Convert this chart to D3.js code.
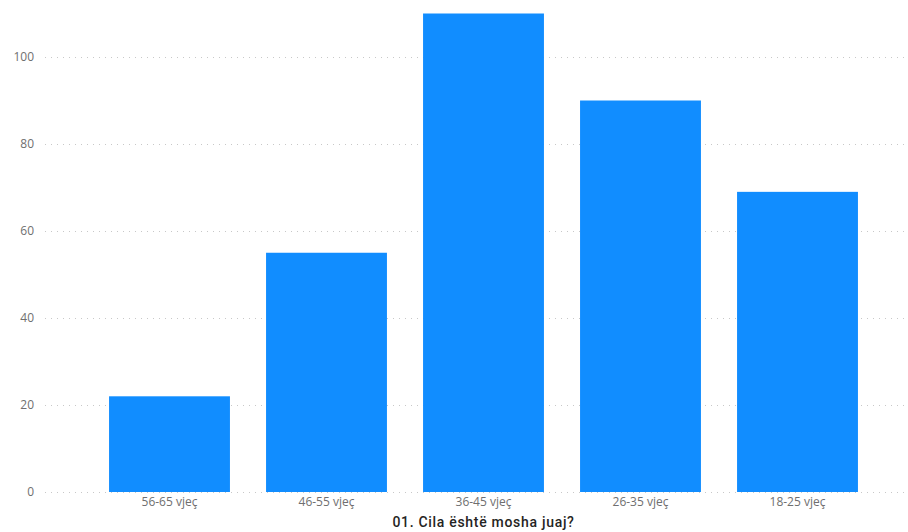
<!DOCTYPE html>
<html>
<head>
<meta charset="utf-8">
<script src="https://cdn.jsdelivr.net/npm/d3@7"></script>
<style>
  body { margin: 0; background: #fff; }
  .tick text { font-family: "Open Sans", sans-serif; font-size: 12px; fill: #6f6f6f; }
</style>
</head>
<body>
<div id="chart"></div>
<script>
const categories = ["56-65 vjeç", "46-55 vjeç", "36-45 vjeç", "26-35 vjeç", "18-25 vjeç"];
const values = [22, 55, 110, 90, 69];
const yTicks = [0, 20, 40, 60, 80, 100];
const xTitle = "01. Cila është mosha juaj?";

const width = 908, height = 532;

const svg = d3.select("#chart")
  .append("svg")
  .attr("width", width)
  .attr("height", height);

const x = d3.scaleBand()
  .domain(categories)
  .range([91, 876])
  .paddingInner(0.23)
  .paddingOuter(0.115);

const y = d3.scaleLinear()
  .domain([0, 100])
  .range([492, 57]);

// gridlines
svg.append("g")
  .selectAll("line")
  .data(yTicks)
  .enter()
  .append("line")
  .attr("x1", 45)
  .attr("x2", width)
  .attr("y1", d => y(d) + 0.5)
  .attr("y2", d => y(d) + 0.5)
  .attr("stroke", "#c8c8c8")
  .attr("stroke-width", 1)
  .attr("stroke-dasharray", "1,5");

// y axis labels
const yAxis = svg.append("g")
  .attr("transform", "translate(34,0)")
  .call(d3.axisLeft(y).tickValues(yTicks).tickSize(0).tickPadding(0));
yAxis.select(".domain").remove();

// bars
svg.selectAll(".bar")
  .data(values)
  .enter()
  .append("rect")
  .attr("class", "bar")
  .attr("x", (d, i) => x(categories[i]))
  .attr("y", d => y(d))
  .attr("width", x.bandwidth())
  .attr("height", d => y(0) - y(d))
  .attr("fill", "#118DFF");

// x axis labels
const xAxis = svg.append("g")
  .attr("transform", "translate(0,492)")
  .call(d3.axisBottom(x).tickSize(0).tickPadding(5));
xAxis.select(".domain").remove();

svg.append("text")
  .attr("x", (x.range()[0] + x.range()[1]) / 2)
  .attr("y", 527)
  .attr("text-anchor", "middle")
  .attr("font-family", "Roboto, sans-serif")
  .attr("font-weight", 500)
  .attr("font-size", 14)
  .attr("fill", "#252423")
  .attr("letter-spacing", "0.7")
  .text(xTitle);
</script>
</body>
</html>
